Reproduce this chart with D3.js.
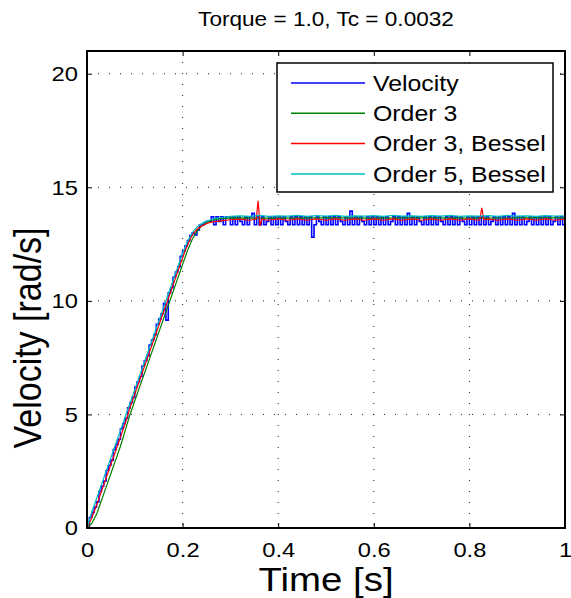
<!DOCTYPE html>
<html>
<head>
<meta charset="utf-8">
<script src="https://cdn.jsdelivr.net/npm/d3@7"></script>
<style>
  body { margin: 0; background: #fff; }
  text { font-family: "Liberation Sans", Arial, sans-serif; fill: #000; }
</style>
</head>
<body>
<div id="chart"></div>
<script>
// 1: DATA
// measured velocity, one sample every 5 ms from t = 0 to t = 1
const velDt = 0.005;
const velocity = [
  0, 0.46, 0.69, 0.92, 1.15, 1.61, 1.84, 2.07, 2.53, 2.76,
  2.99, 3.45, 3.68, 3.91, 4.37, 4.60, 4.83, 5.29, 5.52, 5.75,
  6.21, 6.44, 6.67, 7.13, 7.36, 7.59, 8.05, 8.28, 8.51, 8.97,
  9.20, 9.43, 9.89, 9.15, 10.35, 10.58, 11.04, 11.27, 11.50, 11.96,
  12.19, 12.42, 12.65, 12.88, 13.00, 12.90, 13.11, 13.34, 13.34, 13.45,
  13.50,
  13.50, 13.70, 13.35, 13.70, 13.50, 13.70, 13.35, 13.70, 13.70, 13.35,
  13.70, 13.35, 13.70, 13.50, 13.35, 13.70, 13.35, 13.70, 13.85, 13.35,
  13.70, 13.35, 13.70, 13.35, 13.50, 13.70, 13.35, 13.70, 13.35, 13.70,
  13.35, 13.70, 13.50, 13.35, 13.70, 13.35, 13.70, 13.35, 13.70, 13.35,
  13.70, 13.35, 13.70, 12.80, 13.35, 13.70, 13.50, 13.35, 13.70, 13.35,
  13.70, 13.35, 13.70, 13.35, 13.70, 13.50, 13.35, 13.70, 13.35, 13.95,
  13.35, 13.70, 13.35, 13.70, 13.50, 13.35, 13.70, 13.35, 13.70, 13.35,
  13.70, 13.35, 13.70, 13.35, 13.70, 13.35, 13.50, 13.70, 13.35, 13.70,
  13.35, 13.70, 13.35, 13.85, 13.35, 13.70, 13.35, 13.70, 13.50, 13.35,
  13.70, 13.35, 13.70, 13.35, 13.70, 13.35, 13.70, 13.50, 13.35, 13.70,
  13.35, 13.70, 13.35, 13.70, 13.35, 13.70, 13.50, 13.35, 13.70, 13.35,
  13.70, 13.35, 13.70, 13.35, 13.70, 13.35, 13.70, 13.35, 13.50, 13.70,
  13.35, 13.70, 13.35, 13.70, 13.35, 13.70, 13.35, 13.85, 13.35, 13.70,
  13.35, 13.70, 13.35, 13.50, 13.70, 13.35, 13.70, 13.35, 13.70, 13.35,
  13.70, 13.35, 13.70, 13.35, 13.50, 13.70, 13.35, 13.70, 13.35, 13.50
];

// Order 3 filter
const order3Time = [0, 0.01, 0.02, 0.03, 0.04, 0.05, 0.06, 0.07, 0.08, 0.09,
  0.10, 0.11, 0.12, 0.13, 0.14, 0.15, 0.16, 0.17, 0.18, 0.19,
  0.20, 0.21, 0.22, 0.23, 0.24, 0.25, 0.26, 0.28, 0.30, 0.40,
  0.50, 0.60, 0.70, 0.80, 0.90, 1.00];
const order3 = [0, 0.2, 0.6, 1.2, 1.8, 2.4, 3.0, 3.6, 4.3, 5.0,
  5.6, 6.2, 6.8, 7.4, 8.0, 8.6, 9.2, 9.8, 10.4, 11.0,
  11.6, 12.2, 12.7, 13.05, 13.3, 13.45, 13.55, 13.62, 13.65, 13.64,
  13.65, 13.64, 13.65, 13.64, 13.65, 13.65];

// Order 3 Bessel filter
const bessel3Time = [0, 0.01, 0.02, 0.03, 0.04, 0.05, 0.06, 0.07, 0.08, 0.09,
  0.10, 0.11, 0.12, 0.13, 0.14, 0.15, 0.16, 0.17, 0.18, 0.19,
  0.20, 0.21, 0.22, 0.23, 0.24, 0.25, 0.26, 0.28, 0.30, 0.32,
  0.34, 0.354, 0.358, 0.362, 0.366, 0.38, 0.40, 0.42, 0.44, 0.46,
  0.48, 0.50, 0.52, 0.54, 0.56, 0.58, 0.60, 0.62, 0.64, 0.66,
  0.68, 0.70, 0.72, 0.74, 0.76, 0.78, 0.80, 0.82, 0.822, 0.826,
  0.830, 0.84, 0.86, 0.88, 0.90, 0.92, 0.94, 0.96, 0.98, 1.00];
const bessel3 = [0, 0.45, 1.0, 1.6, 2.2, 2.8, 3.4, 4.0, 4.6, 5.3,
  5.9, 6.5, 7.1, 7.7, 8.3, 8.9, 9.5, 10.1, 10.7, 11.3,
  11.9, 12.45, 12.9, 13.15, 13.3, 13.4, 13.47, 13.52, 13.57, 13.6,
  13.55, 13.6, 14.4, 13.3, 13.6, 13.55, 13.61, 13.55, 13.61, 13.55,
  13.61, 13.55, 13.61, 13.55, 13.61, 13.55, 13.61, 13.55, 13.61, 13.55,
  13.61, 13.55, 13.61, 13.55, 13.61, 13.55, 13.61, 13.55, 13.6, 14.1,
  13.58, 13.6, 13.55, 13.61, 13.55, 13.61, 13.55, 13.61, 13.55, 13.6];

// Order 5 Bessel filter
const bessel5Time = [0, 0.01, 0.02, 0.03, 0.04, 0.05, 0.06, 0.07, 0.08, 0.09,
  0.10, 0.11, 0.12, 0.13, 0.14, 0.15, 0.16, 0.17, 0.18, 0.19,
  0.20, 0.21, 0.22, 0.23, 0.24, 0.25, 0.26, 0.27, 0.28, 0.30,
  0.32, 0.34, 0.36, 0.38, 0.40, 0.42, 0.44, 0.46, 0.48, 0.50,
  0.52, 0.54, 0.56, 0.58, 0.60, 0.62, 0.64, 0.66, 0.68, 0.70,
  0.72, 0.74, 0.76, 0.78, 0.80, 0.82, 0.84, 0.86, 0.88, 0.90,
  0.92, 0.94, 0.96, 0.98, 1.00];
const bessel5 = [0, 0.7, 1.3, 1.9, 2.5, 3.1, 3.7, 4.3, 4.9, 5.5,
  6.1, 6.7, 7.3, 7.9, 8.5, 9.1, 9.7, 10.3, 10.9, 11.5,
  12.1, 12.6, 13.0, 13.25, 13.4, 13.5, 13.58, 13.63, 13.67, 13.72,
  13.74, 13.72, 13.76, 13.72, 13.74, 13.73, 13.76, 13.72, 13.75, 13.73,
  13.76, 13.72, 13.74, 13.73, 13.75, 13.72, 13.76, 13.73, 13.74, 13.72,
  13.75, 13.73, 13.76, 13.72, 13.74, 13.73, 13.75, 13.72, 13.76, 13.73,
  13.74, 13.72, 13.75, 13.73, 13.74];

const xTicks = [0, 0.2, 0.4, 0.6, 0.8, 1];
const yTicks = [0, 5, 10, 15, 20];
const seriesNames = ["Velocity", "Order 3", "Order 3, Bessel", "Order 5, Bessel"];
const seriesColors = ["#0000ff", "#008000", "#ff0000", "#00bfbf"];

// 2: LAYOUT
const W = 571, H = 598;
const margin = { top: 51, right: 6, bottom: 70, left: 87 };
const width = W - margin.left - margin.right;
const height = H - margin.top - margin.bottom;
const SX = 1.13; // the picture's text is a little wide

const svg = d3.select("#chart").append("svg")
    .attr("width", W)
    .attr("height", H);

const g = svg.append("g")
    .attr("transform", `translate(${margin.left},${margin.top})`);

// 3: SCALES
const x = d3.scaleLinear().domain([0, 1]).range([0, width]);
const y = d3.scaleLinear().domain([0, 21]).range([height, 0]);

// 4: GRID
g.append("g").selectAll("line")
    .data(xTicks.filter(d => d > 0 && d < 1))
    .enter().append("line")
    .attr("x1", d => x(d)).attr("x2", d => x(d))
    .attr("y1", 0).attr("y2", height)
    .attr("stroke", "#222").attr("stroke-dasharray", "1,10");

g.append("g").selectAll("line")
    .data(yTicks.filter(d => d > 0))
    .enter().append("line")
    .attr("y1", d => y(d)).attr("y2", d => y(d))
    .attr("x1", 0).attr("x2", width)
    .attr("stroke", "#222").attr("stroke-dasharray", "1,10");

// 5: LINES
svg.append("defs").append("clipPath").attr("id", "clip")
    .append("rect").attr("width", width).attr("height", height);

const line = d3.line()
    .x(d => x(d[0]))
    .y(d => y(d[1]));
// the encoder velocity is quantised, so draw it as steps
const stepLine = d3.line()
    .curve(d3.curveStepAfter)
    .x(d => x(d[0]))
    .y(d => y(d[1]));

const series = [
    velocity.map((v, i) => [i * velDt, v]),
    order3Time.map((t, i) => [t, order3[i]]),
    bessel3Time.map((t, i) => [t, bessel3[i]]),
    bessel5Time.map((t, i) => [t, bessel5[i]])
];

g.append("g").attr("clip-path", "url(#clip)")
    .selectAll("path")
    .data(series)
    .enter().append("path")
    .attr("fill", "none")
    .attr("stroke", (d, i) => seriesColors[i])
    .attr("stroke-width", (d, i) => i === 0 ? 1.6 : 1.2)
    .attr("d", (d, i) => i === 0 ? stepLine(d) : line(d));

// 6: AXES (MATLAB style box, ticks pointing in)
const fmt = d3.format("~g");
const axB = g.append("g").attr("transform", `translate(0,${height})`)
    .call(d3.axisBottom(x).tickValues(xTicks).tickFormat(fmt)
        .tickSize(-5).tickSizeOuter(0).tickPadding(14));
const axL = g.append("g")
    .call(d3.axisLeft(y).tickValues(yTicks).tickFormat(fmt)
        .tickSize(-5).tickSizeOuter(0).tickPadding(8));
g.append("g")
    .call(d3.axisTop(x).tickValues(xTicks).tickFormat("")
        .tickSize(-5).tickSizeOuter(0));
g.append("g").attr("transform", `translate(${width},0)`)
    .call(d3.axisRight(y).tickValues(yTicks).tickFormat("")
        .tickSize(-5).tickSizeOuter(0));

g.selectAll(".domain").remove();
g.selectAll(".tick line").attr("stroke", "#000");
[axB, axL].forEach(a => a.selectAll("text")
    .style("font-family", "'Liberation Sans', Arial, sans-serif")
    .style("font-size", "21px")
    .attr("fill", "#000")
    .attr("transform", `scale(${SX},1)`));

g.append("rect")
    .attr("width", width).attr("height", height)
    .attr("fill", "none").attr("stroke", "#000").attr("stroke-width", 2);

// 7: LABELS
svg.append("text")
    .attr("transform", `translate(${margin.left + width / 2},26) scale(${SX},1)`)
    .attr("text-anchor", "middle")
    .style("font-size", "20px")
    .text("Torque = 1.0, Tc = 0.0032");

svg.append("text")
    .attr("transform", `translate(${margin.left + width / 2},591) scale(${SX},1)`)
    .attr("text-anchor", "middle")
    .style("font-size", "34px")
    .text("Time [s]");

svg.append("text")
    .attr("transform", `translate(41,338) scale(${SX},1) rotate(-90)`)
    .attr("text-anchor", "middle")
    .style("font-size", "34px")
    .text("Velocity [rad/s]");

// 8: LEGEND
const legW = 276, legH = 129;
const legend = g.append("g")
    .attr("transform", `translate(${width - 12 - legW},12)`);

legend.append("rect")
    .attr("width", legW).attr("height", legH)
    .attr("fill", "#fff").attr("stroke", "#000").attr("stroke-width", 1.5);

const item = legend.selectAll(".item")
    .data(seriesNames)
    .enter().append("g")
    .attr("class", "item")
    .attr("transform", (d, i) => `translate(0,${20 + i * 30.3})`);

item.append("line")
    .attr("x1", 14).attr("x2", 88)
    .attr("stroke", (d, i) => seriesColors[i])
    .attr("stroke-width", 1.5);

item.append("text")
    .attr("transform", `translate(96,0) scale(${SX},1)`)
    .attr("dy", "0.35em")
    .style("font-size", "22px")
    .text(d => d);
</script>
</body>
</html>
